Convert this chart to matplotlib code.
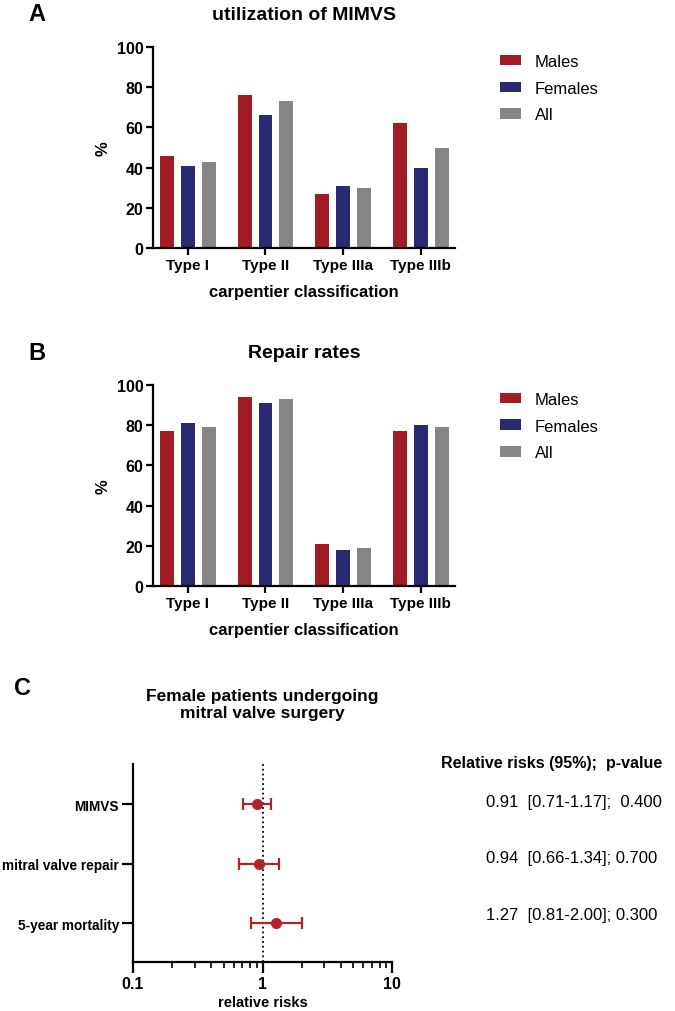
import numpy as np
import matplotlib
matplotlib.use('Agg')
import matplotlib.pyplot as plt
from matplotlib.ticker import LogLocator, NullFormatter, FixedLocator

# ---- data ----
types = ['Type I', 'Type II', 'Type IIIa', 'Type IIIb']
groups = ['Males', 'Females', 'All']

mimvs_males = [46, 76, 27, 62]
mimvs_females = [41, 66, 31, 40]
mimvs_all = [43, 73, 30, 50]

repair_males = [77, 94, 21, 77]
repair_females = [81, 91, 18, 80]
repair_all = [79, 93, 19, 79]

outcomes = ['MIMVS', 'mitral valve repair', '5-year mortality']
rr = [0.91, 0.94, 1.27]
rr_low = [0.71, 0.66, 0.81]
rr_high = [1.17, 1.34, 2.00]
p_values = ['0.400', '0.700', '0.300']

RED = '#A11C24'
NAVY = '#2A2A72'
GREY = '#868686'
FOREST_RED = '#B3232A'

plt.rcParams['font.family'] = ['Liberation Sans', 'DejaVu Sans']

fig = plt.figure(figsize=(6.75, 10.12), dpi=100)


def bar_panel(rect, males, females, alls, title, letter, letter_y):
    ax = fig.add_axes(rect)
    x = np.arange(len(types))
    w = 0.18
    off = 0.27
    ax.bar(x - off, males, w, color=RED, label=groups[0])
    ax.bar(x, females, w, color=NAVY, label=groups[1])
    ax.bar(x + off, alls, w, color=GREY, label=groups[2])
    ax.set_xlim(-0.45, 3.44)
    ax.set_ylim(0, 100)
    ax.set_yticks([0, 20, 40, 60, 80, 100])
    ax.set_xticks(x)
    ax.set_xticklabels(types, fontweight='bold', fontsize=11)
    for lbl in ax.get_yticklabels():
        lbl.set_fontweight('bold')
        lbl.set_fontsize(11.5)
    for s in ['top', 'right']:
        ax.spines[s].set_visible(False)
    for s in ['left', 'bottom']:
        ax.spines[s].set_linewidth(1.6)
    ax.tick_params(axis='both', width=1.6, length=5, pad=2)
    ax.set_xlabel('carpentier classification', fontweight='bold',
                  fontsize=12, labelpad=9)
    ax.set_ylabel('%', fontweight='bold', fontsize=12)
    ax.yaxis.set_label_coords(-0.14, 0.5)
    ax.set_title(title, fontweight='bold', fontsize=14, pad=20)
    ax.legend(loc='upper left', bbox_to_anchor=(1.1, 1.04), frameon=False,
              fontsize=12, handlelength=1.25, handleheight=0.6,
              labelspacing=0.7, handletextpad=0.85)
    fig.text(0.042, letter_y, letter, fontsize=17, fontweight='bold', va='center')
    return ax


bar_panel([0.2267, 0.7539, 0.447, 0.1986], mimvs_males, mimvs_females, mimvs_all,
          'utilization of MIMVS', 'A', 0.986)
bar_panel([0.2267, 0.4200, 0.447, 0.1986], repair_males, repair_females, repair_all,
          'Repair rates', 'B', 0.651)

# ---- panel C: forest plot ----
ax = fig.add_axes([0.197, 0.0484, 0.384, 0.1957])
ypos = np.arange(len(outcomes))[::-1] + 1
rr_arr = np.array(rr)
xerr = [rr_arr - np.array(rr_low), np.array(rr_high) - rr_arr]
ax.errorbar(rr_arr, ypos, xerr=xerr, fmt='o', color=FOREST_RED, ecolor=FOREST_RED,
            elinewidth=1.6, capsize=4, capthick=1.6, markersize=7)
ax.axvline(1, color='black', linestyle=':', linewidth=1.3, zorder=0)
ax.set_xscale('log')
ax.set_xlim(0.1, 10)
ax.set_ylim(0.35, 3.68)
ax.xaxis.set_major_locator(FixedLocator([0.1, 1, 10]))
ax.set_xticklabels(['0.1', '1', '10'], fontweight='bold', fontsize=11.5)
ax.xaxis.set_minor_locator(LogLocator(base=10, subs=np.arange(2, 10)))
ax.xaxis.set_minor_formatter(NullFormatter())
ax.set_yticks(ypos)
ax.set_yticklabels(outcomes, fontweight='bold', fontsize=9.8)
for s in ['top', 'right']:
    ax.spines[s].set_visible(False)
for s in ['left', 'bottom']:
    ax.spines[s].set_linewidth(1.6)
ax.tick_params(axis='both', which='major', width=1.6, length=8, pad=2)
ax.tick_params(axis='x', which='minor', width=1.2, length=4)
ax.set_xlabel('relative risks', fontweight='bold', fontsize=10.5, labelpad=3)
ax.set_title('Female patients undergoing\nmitral valve surgery',
             fontweight='bold', fontsize=12.5, pad=34, linespacing=1.15)
fig.text(0.021, 0.32, 'C', fontsize=17, fontweight='bold', va='center')

fig.text(0.653, 0.246, 'Relative risks (95%);  p-value', fontsize=11.5,
         fontweight='bold', va='center')
text_y = [0.2075, 0.152, 0.0958]
for i in range(len(outcomes)):
    sep = ';  ' if i == 0 else '; '
    line = f'{rr[i]:.2f}  [{rr_low[i]:.2f}-{rr_high[i]:.2f}]{sep}{p_values[i]}'
    fig.text(0.72, text_y[i], line, fontsize=12, va='center')

fig.savefig('out.png', dpi=100, facecolor='white')
